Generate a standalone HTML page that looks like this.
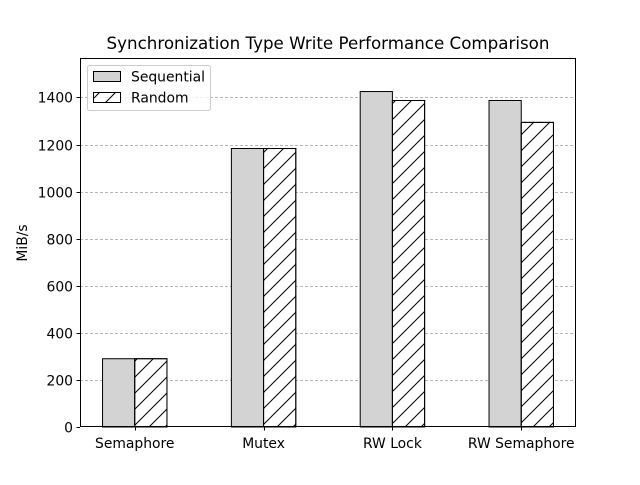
<!DOCTYPE html>
<html><head><meta charset="utf-8"><style>
body{margin:0;background:#fff}
svg text{font-family:"DejaVu Sans","Liberation Sans",sans-serif;fill:#000}
</style></head><body>
<svg id="chart" width="640" height="480" xmlns="http://www.w3.org/2000/svg">
<defs>
<pattern id="hatch" patternUnits="userSpaceOnUse" width="16" height="16">
<path d="M-4,4 L4,-4 M0,16 L16,0 M12,20 L20,12" stroke="#000" stroke-width="1"/>
</pattern>
</defs>
<rect width="640" height="480" fill="#fff"/>
<g id="grid"></g>
<g id="bars"></g>
<g id="axes"></g>
<text x="328" y="49" font-size="16.7" text-anchor="middle">Synchronization Type Write Performance Comparison</text>
<text x="27" y="243" font-size="13.9" text-anchor="middle" transform="rotate(-90 27 243)">MiB/s</text>
<g>
<rect x="87.5" y="65.5" width="123" height="45" rx="2" fill="#fff" fill-opacity="0.8" stroke="#ccc"/>
<rect x="93.5" y="71.5" width="27" height="10" fill="#d3d3d3" stroke="#000"/>
<text x="131" y="81.5" font-size="13.9">Sequential</text>
<rect x="93.5" y="92.5" width="27" height="10" fill="url(#hatch)" stroke="#000"/>
<text x="131" y="102.5" font-size="13.9">Random</text>
</g>
</svg>
<script>
const categories = ["Semaphore","Mutex","RW Lock","RW Semaphore"];
const sequential = [290,1183,1425,1387];
const random = [290,1183,1387,1294];
const yTicks = [0,200,400,600,800,1000,1200,1400];

const L=80,R=576,T=58,B=427;
const yMax=Math.max(...sequential,...random)*1.1;
const y=v=>B-(v/yMax)*(B-T);
const xMin=-0.425,xMaxV=categories.length-1+0.425;
const x=v=>L+(v-xMin)/(xMaxV-xMin)*(R-L);
const bw=0.25;
const NS="http://www.w3.org/2000/svg";
function mk(tag,attrs,parent){const e=document.createElementNS(NS,tag);for(const k in attrs)e.setAttribute(k,attrs[k]);parent.appendChild(e);return e;}
const grid=document.getElementById('grid'),bars=document.getElementById('bars'),axes=document.getElementById('axes');
yTicks.forEach(t=>{
  const yy=Math.round(y(t))+0.5;
  if(t>0){const g=mk('line',{x1:L,x2:R,y1:yy,y2:yy,stroke:'#a0a0a0','stroke-dasharray':'3,2','stroke-width':0.8},grid);
  
  }
  const tk=mk('line',{x1:L-3.5,x2:L,y1:yy,y2:yy,stroke:'#000'},axes);
  
  
  const tx=mk('text',{x:L-7,y:yy+5,'font-size':13.9,'text-anchor':'end'},axes);
  tx.textContent=t;
  
  
});
categories.forEach((c,i)=>{
  const x0=x(i-bw),x1=x(i),x2=x(i+bw);
  const b1=mk('rect',{x:x0,y:y(sequential[i]),width:x1-x0,height:B-y(sequential[i]),fill:'#d3d3d3',stroke:'#000'},bars);
  
  
  const b2=mk('rect',{x:x1,y:y(random[i]),width:x2-x1,height:B-y(random[i]),fill:'#fff',stroke:'#000'},bars);
  
  
  const b3=mk('rect',{x:x1,y:y(random[i]),width:x2-x1,height:B-y(random[i]),fill:'url(#hatch)',stroke:'#000'},bars);
  
  
  const cx=Math.round(x1)+0.5;
  const tk=mk('line',{x1:cx,x2:cx,y1:B,y2:B+3.5,stroke:'#000'},axes);
  
  
  const tx=mk('text',{x:x1,y:B+21,'font-size':13.9,'text-anchor':'middle'},axes);
  tx.textContent=c;
  
  
});
const frame=mk('rect',{x:L+0.5,y:T+0.5,width:R-L-1,height:B-T-1,fill:'none',stroke:'#000','stroke-width':1},axes);


</script>
</body></html>
